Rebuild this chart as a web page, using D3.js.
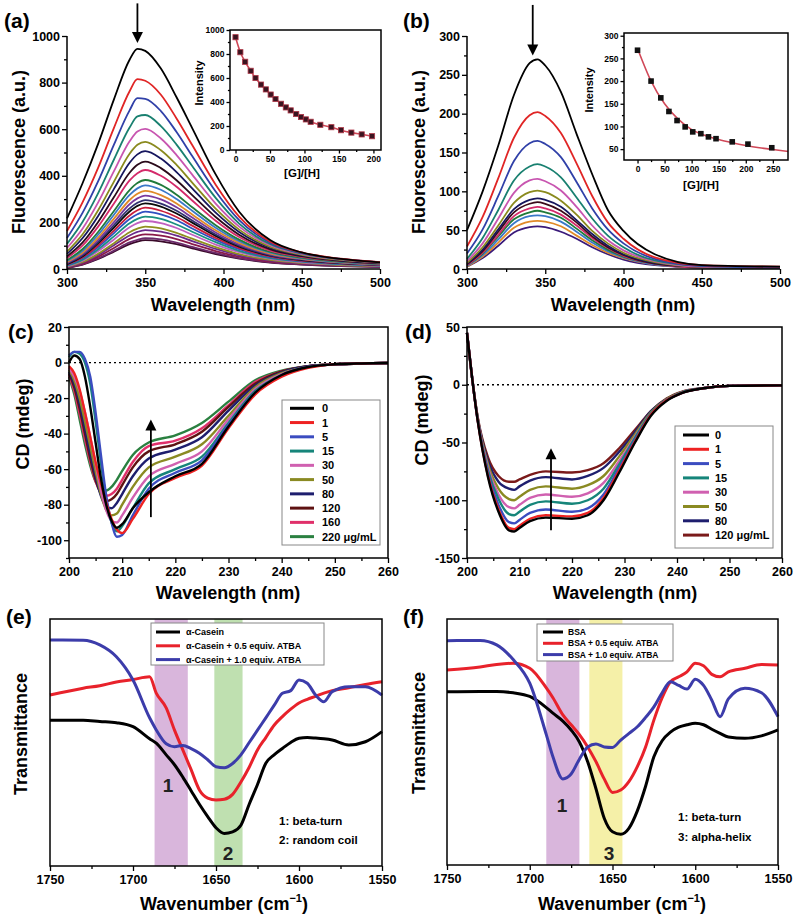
<!DOCTYPE html>
<html>
<head>
<meta charset="utf-8">
<script src="https://cdn.jsdelivr.net/npm/d3@7"></script>
<style>
body { margin: 0; background: #fff; }
svg text { font-family: "Liberation Sans", Arial, sans-serif; font-weight: bold; }
</style>
</head>
<body>
<div id="fig"></div>
<script>
// ---------- (a) fluorescence titration ----------
let wlA = [300, 310, 320, 330, 340, 345, 350, 360, 370, 380, 395, 410, 430, 450, 475, 500];
let fluorA = [
    [217, 369, 539, 728, 898, 945, 936, 860, 737, 605, 406, 246, 123, 71, 43, 28],
    [163, 287, 436, 606, 763, 815, 808, 748, 646, 532, 362, 225, 117, 71, 44, 29],
    [133, 242, 378, 534, 681, 733, 730, 678, 588, 485, 333, 210, 112, 69, 43, 29],
    [108, 203, 327, 470, 607, 655, 661, 613, 534, 442, 305, 195, 106, 67, 42, 29],
    [90, 174, 287, 420, 548, 590, 601, 560, 489, 405, 281, 182, 101, 64, 41, 28],
    [75, 149, 253, 375, 495, 533, 546, 510, 447, 371, 259, 169, 95, 61, 39, 27],
    [65, 133, 229, 344, 456, 492, 506, 474, 416, 346, 242, 159, 90, 58, 37, 26],
    [54, 114, 203, 309, 413, 447, 461, 433, 381, 317, 223, 147, 84, 55, 35, 25],
    [47, 101, 183, 281, 380, 411, 425, 400, 353, 294, 207, 137, 79, 52, 34, 23],
    [38, 86, 160, 249, 339, 369, 382, 361, 319, 265, 188, 126, 73, 49, 32, 22],
    [34, 78, 148, 233, 318, 346, 359, 340, 300, 250, 177, 119, 70, 46, 30, 21],
    [30, 71, 136, 216, 296, 323, 335, 317, 281, 234, 166, 112, 66, 44, 29, 20],
    [26, 65, 126, 201, 278, 303, 315, 299, 265, 221, 157, 106, 63, 42, 27, 19],
    [24, 59, 117, 188, 260, 284, 296, 281, 250, 208, 148, 100, 59, 40, 26, 18],
    [21, 55, 111, 178, 247, 271, 282, 268, 238, 199, 142, 96, 57, 38, 25, 18],
    [19, 50, 102, 165, 230, 252, 263, 250, 223, 186, 133, 90, 54, 36, 24, 17],
    [17, 46, 94, 154, 215, 235, 246, 234, 209, 174, 125, 85, 51, 34, 23, 16],
    [14, 40, 85, 140, 196, 215, 225, 215, 191, 160, 115, 78, 47, 32, 21, 15],
    [12, 36, 77, 127, 179, 197, 206, 197, 176, 147, 105, 72, 43, 29, 20, 14],
    [10, 30, 66, 111, 158, 173, 182, 174, 155, 130, 94, 64, 39, 26, 17, 12],
    [8, 27, 60, 102, 144, 159, 167, 160, 143, 120, 86, 59, 36, 24, 16, 11],
    [7, 23, 53, 90, 129, 142, 149, 143, 128, 107, 77, 53, 32, 22, 15, 10],
    [6, 20, 46, 79, 114, 125, 132, 127, 113, 95, 69, 47, 29, 20, 13, 9],
    [5, 19, 43, 74, 107, 118, 124, 119, 107, 89, 64, 45, 27, 19, 12, 9]
];
let colorsA = ['#000000', '#e02525', '#3040a8', '#198070', '#c855b0', '#8a8a1e', '#16165e', '#2a0a1a',
    '#d42a6a', '#207a3a', '#3a78c8', '#e08a28', '#7a3a9e', '#30306e', '#0a0a0a', '#c81e3c',
    '#3050c0', '#1a9080', '#c060c0', '#909020', '#6a2a8a', '#8a1a4a', '#6a2a6a', '#3a0a2a'];
let ratioA = [0, 7, 14, 22, 29, 37, 44, 51, 58, 66, 73, 80, 88, 95, 102, 109, 123, 139, 153, 168, 183, 198];
let intensA = [940, 815, 735, 660, 600, 545, 505, 462, 425, 385, 355, 330, 300, 275, 255, 235, 210, 190, 165, 145, 130, 115];

// ---------- (b) fluorescence titration ----------
let wlB = [300, 310, 320, 330, 340, 345, 350, 360, 370, 380, 390, 400, 420, 450, 500];
let fluorB = [
    [50, 100, 159, 224, 265, 270, 262, 228, 174, 122, 76, 49, 19, 5, 3],
    [29, 67, 117, 169, 198, 202, 197, 175, 136, 94, 60, 39, 15, 5, 3],
    [20, 51, 94, 139, 162, 165, 161, 144, 112, 78, 51, 33, 13, 4, 2],
    [13, 40, 76, 114, 132, 135, 132, 118, 92, 65, 43, 28, 11, 4, 2],
    [10, 33, 65, 98, 114, 116, 113, 101, 80, 56, 37, 24, 10, 3, 2],
    [8, 28, 56, 85, 99, 101, 99, 88, 70, 49, 33, 21, 9, 3, 2],
    [7, 25, 51, 77, 89, 91, 89, 80, 63, 45, 30, 19, 8, 3, 2],
    [6, 23, 48, 73, 84, 86, 84, 75, 60, 42, 28, 18, 7, 3, 2],
    [5, 21, 44, 68, 78, 80, 78, 70, 56, 40, 27, 17, 7, 2, 2],
    [5, 20, 42, 64, 73, 75, 73, 66, 52, 37, 25, 16, 7, 2, 1],
    [4, 18, 38, 59, 68, 69, 68, 61, 48, 34, 23, 15, 6, 2, 1],
    [3, 16, 34, 53, 61, 62, 61, 55, 43, 31, 21, 14, 6, 2, 1],
    [3, 14, 30, 47, 54, 55, 54, 48, 39, 28, 19, 12, 5, 2, 1]
];
let colorsB = ['#000000', '#e02525', '#3040a8', '#198070', '#c855b0', '#8a8a1e', '#16165e', '#3a0a1a',
    '#d42a6a', '#207a3a', '#3a78c8', '#e08a28', '#3a1a7a'];
let ratioB = [0, 25, 43, 58, 73, 88, 102, 117, 131, 145, 175, 204, 248];
let intensB = [268, 200, 163, 133, 113, 99, 88, 84, 77, 73, 66, 61, 53];
let fitRatioB = [0, 25, 50, 75, 100, 125, 150, 175, 200, 225, 250, 278];
let fitIntensB = [272, 200, 150, 116, 93, 80, 71, 64, 58, 53, 49, 45];

// ---------- (c) CD, alpha-casein ----------
let wlC = [200, 201, 202, 203, 204, 205, 206, 207, 208, 209, 210, 212, 215, 220, 225, 230, 235, 240, 245, 250, 255, 260];
let cdC = [
    [0, 4, 2, -8, -25, -45, -65, -80, -89, -93, -91, -82, -73, -64, -57, -36, -17, -7, -2.5, -1, -0.5, -0.3],
    [-2, -6, -15, -28, -42, -56, -68, -79, -88, -94, -96, -88, -74, -65, -58, -37, -18, -8, -3, -1, -0.5, -0.3],
    [4, 6, 6, 2, -8, -28, -52, -75, -90, -98, -97, -86, -71, -62, -55, -35, -17, -7, -2.5, -1, -0.5, -0.3],
    [3, 6, 5, 0, -12, -33, -56, -77, -90, -95, -92, -82, -68, -60, -53, -34, -16, -7, -2.5, -1, -0.5, -0.3],
    [-3, -8, -16, -28, -42, -57, -72, -83, -89, -90, -86, -76, -64, -57, -50, -32, -15, -6.5, -2.5, -1, -0.5, -0.3],
    [-4, -10, -20, -33, -47, -61, -74, -83, -86, -85, -80, -70, -59, -53, -46, -30, -14, -6, -2.5, -1, -0.5, -0.3],
    [-5, -12, -23, -37, -51, -64, -75, -81, -82, -79, -74, -64, -54, -49, -42, -27, -13, -5.5, -2, -1, -0.5, -0.3],
    [-6, -14, -26, -40, -54, -66, -74, -78, -77, -74, -69, -59, -50, -46, -39, -25, -12, -5, -2, -1, -0.5, -0.3],
    [-7, -16, -29, -43, -56, -67, -73, -75, -74, -71, -66, -56, -47, -44, -37, -24, -11, -5, -2, -1, -0.5, -0.3],
    [-8, -18, -32, -46, -58, -67, -71, -72, -70, -66, -61, -52, -45, -41, -34, -22, -10, -4.5, -2, -1, -0.5, -0.3]
];
let legendC = ['0', '1', '5', '15', '30', '50', '80', '120', '160', '220 \u03bcg/mL'];
let colorsC = ['#000000', '#ee2222', '#3b4cc0', '#16857a', '#d060b0', '#8a8a22', '#1e1e6e', '#5e1212', '#e0306a', '#2a8040'];

// ---------- (d) CD, BSA ----------
let wlD = [200, 201, 202, 204, 206, 208, 209, 210, 212, 215, 220, 223, 226, 229, 232, 235, 238, 241, 245, 250, 260];
let cdD = [
    [45, 5, -30, -80, -110, -126, -127, -124, -118, -115, -116, -113, -100, -76, -50, -27, -14, -7, -3, -1, -0.5],
    [45, 5, -30, -79, -108, -124, -125, -122, -116, -113, -114, -111, -98, -74, -49, -26, -13.5, -7, -3, -1, -0.5],
    [45, 5, -30, -77, -104, -119, -120, -117, -111, -108, -110, -107, -95, -72, -48, -26, -13.5, -7, -3, -1, -0.5],
    [45, 5, -29, -74, -99, -112, -113, -110, -104, -101, -103, -100, -90, -69, -46, -25, -13, -6.5, -3, -1, -0.5],
    [45, 5, -29, -72, -95, -106, -107, -104, -98, -95, -97, -94, -85, -66, -45, -25, -13, -6.5, -3, -1, -0.5],
    [45, 5, -28, -69, -90, -99, -100, -97, -91, -88, -90, -87, -79, -62, -43, -24, -12.5, -6.5, -3, -1, -0.5],
    [45, 5, -28, -66, -84, -90, -91, -88, -83, -80, -82, -79, -72, -58, -41, -23, -12.5, -6.5, -3, -1, -0.5],
    [45, 5, -27, -63, -79, -84, -84, -82, -78, -75, -76, -74, -68, -55, -39, -23, -12, -6, -3, -1, -0.5]
];
let legendD = ['0', '1', '5', '15', '30', '50', '80', '120 \u03bcg/mL'];
let colorsD = ['#000000', '#ee2222', '#3b4cc0', '#16857a', '#d060b0', '#8a8a22', '#1e1e6e', '#7a1a1a'];

// ---------- (e) FTIR, alpha-casein ----------
let wnE = [1750, 1730, 1720, 1710, 1700, 1690, 1686, 1680, 1675, 1670, 1665, 1660, 1655, 1650, 1645, 1640,
    1635, 1630, 1625, 1620, 1615, 1610, 1605, 1600, 1595, 1590, 1585, 1580, 1570, 1560, 1550];
let caseinE = [59, 59, 58.5, 58, 56.4, 51.5, 49.7, 45, 41, 36, 30.5, 25, 20, 15.5, 13.2, 13.8,
    16.5, 25, 33, 41.6, 45, 47.6, 50, 51.7, 52, 51.8, 51.5, 51, 49, 50.3, 54.4];
let casein05E = [69.2, 72, 73, 74.5, 75.5, 76.6, 70, 64, 55, 47, 39, 30.8, 27.5, 26.7, 27, 29,
    34, 40, 47, 52, 57, 60.5, 63.5, 66, 67.5, 68.7, 70, 71, 72.2, 73.5, 74.6];
let casein10E = [91.5, 91.4, 89.5, 84.7, 75.3, 60, 55.1, 49.5, 48.3, 48.8, 47.5, 45.6, 43, 40.2, 39.8, 41.5,
    45, 50, 55, 60, 65, 69.9, 71, 75.3, 74, 69.2, 66.5, 70.6, 72.6, 72.6, 69.2];
let legendE = ['\u03b1-Casein', '\u03b1-Casein + 0.5 equiv. ATBA', '\u03b1-Casein + 1.0 equiv. ATBA'];
let bandsE = [[1687, 1667, '#d9b6dc'], [1651, 1634, '#bfe0b0']];

// ---------- (f) FTIR, BSA ----------
let wnF = [1750, 1730, 1720, 1710, 1700, 1690, 1686, 1680, 1675, 1670, 1665, 1660, 1655, 1650, 1645, 1640,
    1635, 1630, 1625, 1620, 1615, 1610, 1605, 1600, 1595, 1590, 1585, 1580, 1570, 1560, 1550];
let bsaF = [70.4, 70.5, 70.5, 70, 68.5, 64, 61.7, 58.5, 54.9, 50, 42, 31, 19, 13.5, 12.5, 15,
    22, 32, 44, 50.5, 54, 56, 57, 57.6, 57, 55.2, 53.5, 52, 51.5, 52.5, 54.9];
let bsa05F = [79.3, 80.5, 81.5, 82, 80, 72, 68, 61, 57, 53, 48, 42, 35, 29.5, 30.5, 34,
    40, 48, 58.9, 68, 74.5, 76.5, 78.5, 82, 81, 77.5, 76.5, 78.5, 80, 81.5, 81.3];
let bsa10F = [91.2, 91.3, 89.5, 83.5, 73.9, 53, 44, 35, 37, 43, 48, 49.2, 48, 47.8, 50.8, 53.5,
    56.2, 60, 64.3, 70, 74.5, 73, 71.5, 75.5, 73, 67, 60.3, 67.5, 71.8, 70, 60.3];
let legendF = ['BSA', 'BSA + 0.5 equiv. ATBA', 'BSA + 1.0 equiv. ATBA'];
let bandsF = [[1690, 1670, '#d9b6dc'], [1664, 1644, '#f5f0a8']];
let irColors = ['#000000', '#e8222b', '#3c3caa'];

let svg = d3.select('#fig').append('svg').attr('width', 800).attr('height', 923);

function makePanel(box, xDom, yDom) {
    let x = d3.scaleLinear().domain(xDom).range([box.x0, box.x1]);
    let y = d3.scaleLinear().domain(yDom).range([box.y1, box.y0]);
    return { x: x, y: y, box: box };
}

function frame(p, full) {
    let b = p.box;
    if (full) {
        svg.append('rect')
            .attr('x', b.x0).attr('y', b.y0)
            .attr('width', b.x1 - b.x0).attr('height', b.y1 - b.y0)
            .attr('fill', 'none').attr('stroke', '#000').attr('stroke-width', 1.5);
    } else {
        svg.append('path')
            .attr('d', 'M' + b.x0 + ',' + b.y0 + 'V' + b.y1 + 'H' + b.x1)
            .attr('fill', 'none').attr('stroke', '#000').attr('stroke-width', 1.5);
    }
}

function styleAxis(g, fs) {
    g.select('.domain').remove();
    g.attr('font-size', fs).attr('font-family', '"Liberation Sans", Arial, sans-serif');
    g.selectAll('line').attr('stroke-width', 1.3);
    g.selectAll('text').attr('fill', '#000');
}

function xAxis(p, major, minor, fs, len) {
    let b = p.box;
    let g1 = svg.append('g').attr('transform', 'translate(0,' + b.y1 + ')')
        .call(d3.axisBottom(p.x).tickValues(minor).tickSize(len * 0.6).tickFormat(''));
    styleAxis(g1, fs);
    let g2 = svg.append('g').attr('transform', 'translate(0,' + b.y1 + ')')
        .call(d3.axisBottom(p.x).tickValues(major).tickSize(len).tickPadding(len > 4 ? 4 : 2)
            .tickFormat(function (d) { return String(d); }));
    styleAxis(g2, fs);
}

function yAxis(p, major, minor, fs, len) {
    let b = p.box;
    let g1 = svg.append('g').attr('transform', 'translate(' + b.x0 + ',0)')
        .call(d3.axisLeft(p.y).tickValues(minor).tickSize(len * 0.6).tickFormat(''));
    styleAxis(g1, fs);
    let g2 = svg.append('g').attr('transform', 'translate(' + b.x0 + ',0)')
        .call(d3.axisLeft(p.y).tickValues(major).tickSize(len).tickPadding(2)
            .tickFormat(function (d) { return String(d); }));
    styleAxis(g2, fs);
}

function label(x, y, s, fs, rotate, anchor) {
    let t = svg.append('text')
        .attr('font-size', fs)
        .attr('text-anchor', anchor || 'middle')
        .attr('fill', '#000')
        .text(s);
    if (rotate) {
        t.attr('transform', 'translate(' + x + ',' + y + ') rotate(-90)');
    } else {
        t.attr('x', x).attr('y', y);
    }
    return t;
}

function series(p, xs, ys, color, width, curve) {
    let line = d3.line()
        .x(function (d) { return p.x(d[0]); })
        .y(function (d) { return p.y(d[1]); })
        .curve(curve || d3.curveMonotoneX);
    svg.append('path')
        .datum(xs.map(function (v, i) { return [v, ys[i]]; }))
        .attr('d', line)
        .attr('fill', 'none')
        .attr('stroke', color)
        .attr('stroke-width', width)
        .attr('stroke-linejoin', 'round');
}

function arrow(p, xv, yFrom, yTo) {
    let x = p.x(xv), y1 = p.y(yFrom), y2 = p.y(yTo);
    let dir = y2 > y1 ? -1 : 1;
    svg.append('line')
        .attr('x1', x).attr('x2', x)
        .attr('y1', y1).attr('y2', y2 + dir * 8)
        .attr('stroke', '#000').attr('stroke-width', 1.8);
    svg.append('path')
        .attr('d', 'M' + x + ',' + y2 + 'L' + (x - 5.5) + ',' + (y2 + dir * 11) + 'L' + (x + 5.5) + ',' + (y2 + dir * 11) + 'Z')
        .attr('fill', '#000');
}

// ===== panel (a) =====
let pA = makePanel({ x0: 67, x1: 380, y0: 36, y1: 269 }, [300, 500], [0, 1000]);
for (let i = fluorA.length - 1; i >= 0; i--) {
    series(pA, wlA, fluorA[i], colorsA[i], 1.8);
}
frame(pA, false);
xAxis(pA, [300, 350, 400, 450, 500], [325, 375, 425, 475], 12.5, 5);
yAxis(pA, [0, 200, 400, 600, 800, 1000], [100, 300, 500, 700, 900], 12.5, 5);
arrow(pA, 345, 1140, 970);
label(223, 311, 'Wavelength (nm)', 18);
label(25, 152, 'Fluorescence (a.u.)', 18, true);
label(4, 28, '(a)', 21, false, 'start');

// inset (a)
let iA = makePanel({ x0: 230, x1: 381, y0: 30, y1: 150 }, [-8, 211], [0, 1000]);
svg.append('rect').attr('x', 230).attr('y', 30).attr('width', 151).attr('height', 120).attr('fill', '#fff');
series(iA, ratioA, intensA, '#d04858', 1.6);
svg.append('g').selectAll('rect')
    .data(ratioA)
    .enter()
    .append('rect')
    .attr('x', function (d) { return iA.x(d) - 2.6; })
    .attr('y', function (d, i) { return iA.y(intensA[i]) - 2.6; })
    .attr('width', 5.2).attr('height', 5.2)
    .attr('fill', '#3a1420').attr('stroke', '#b03848').attr('stroke-width', 0.8);
frame(iA, true);
xAxis(iA, [0, 50, 100, 150, 200], [25, 75, 125, 175], 8.5, 3.5);
yAxis(iA, [0, 200, 400, 600, 800, 1000], [100, 300, 500, 700, 900], 8.5, 3.5);
label(302, 177, '[G]/[H]', 11.5);
label(203, 83, 'Intensity', 11, true);

// ===== panel (b) =====
let pB = makePanel({ x0: 467, x1: 780, y0: 36, y1: 269 }, [300, 500], [0, 300]);
for (let i = fluorB.length - 1; i >= 0; i--) {
    series(pB, wlB, fluorB[i], colorsB[i], 1.8);
}
frame(pB, false);
xAxis(pB, [300, 350, 400, 450, 500], [325, 375, 425, 475], 12.5, 5);
yAxis(pB, [0, 50, 100, 150, 200, 250, 300], [25, 75, 125, 175, 225, 275], 12.5, 5);
arrow(pB, 342, 340, 275);
label(623, 311, 'Wavelength (nm)', 18);
label(425, 152, 'Fluorescence (a.u.)', 18, true);
label(403, 28, '(b)', 21, false, 'start');

// inset (b)
let iB = makePanel({ x0: 624, x1: 788, y0: 33, y1: 160 }, [-25, 278], [26, 306]);
svg.append('rect').attr('x', 624).attr('y', 33).attr('width', 164).attr('height', 127).attr('fill', '#fff');
series(iB, fitRatioB, fitIntensB, '#d04858', 1.6);
svg.append('g').selectAll('rect')
    .data(ratioB)
    .enter()
    .append('rect')
    .attr('x', function (d) { return iB.x(d) - 2.8; })
    .attr('y', function (d, i) { return iB.y(intensB[i]) - 2.8; })
    .attr('width', 5.6).attr('height', 5.6)
    .attr('fill', '#111');
frame(iB, true);
xAxis(iB, [0, 50, 100, 150, 200, 250], [25, 75, 125, 175, 225], 8.5, 3.5);
yAxis(iB, [50, 100, 150, 200, 250, 300], [75, 125, 175, 225, 275], 8.5, 3.5);
label(701, 189, '[G]/[H]', 11.5);
label(593, 90, 'Intensity', 11, true);

// ===== panel (c) =====
let pC = makePanel({ x0: 69, x1: 388, y0: 327, y1: 558 }, [200, 260], [-110, 20]);
svg.append('line')
    .attr('x1', pC.x(200)).attr('x2', pC.x(260))
    .attr('y1', pC.y(0)).attr('y2', pC.y(0))
    .attr('stroke', '#000').attr('stroke-width', 1.3).attr('stroke-dasharray', '2,3');
for (let i = cdC.length - 1; i >= 0; i--) {
    series(pC, wlC, cdC[i], colorsC[i], 2.4);
}
frame(pC, true);
xAxis(pC, [200, 210, 220, 230, 240, 250, 260], [205, 215, 225, 235, 245, 255], 12.5, 5);
yAxis(pC, [-100, -80, -60, -40, -20, 0, 20], [-110, -90, -70, -50, -30, -10, 10], 12.5, 5);
arrow(pC, 215.4, -87, -32);
svg.append('rect').attr('x', 282).attr('y', 400).attr('width', 98).attr('height', 145)
    .attr('fill', '#fff').attr('stroke', '#888').attr('stroke-width', 1);
legendC.forEach(function (s, i) {
    let yy = 408.3 + i * 14.26;
    svg.append('line').attr('x1', 290).attr('x2', 314).attr('y1', yy).attr('y2', yy)
        .attr('stroke', colorsC[i]).attr('stroke-width', 3);
    label(322, yy + 4, s, 11, false, 'start');
});
label(228, 599, 'Wavelength (nm)', 18);
label(29, 424, 'CD (mdeg)', 18, true);
label(8, 339, '(c)', 21, false, 'start');

// ===== panel (d) =====
let pD = makePanel({ x0: 467, x1: 782, y0: 327, y1: 558 }, [200, 260], [-150, 50]);
svg.append('line')
    .attr('x1', pD.x(200)).attr('x2', pD.x(260))
    .attr('y1', pD.y(0)).attr('y2', pD.y(0))
    .attr('stroke', '#000').attr('stroke-width', 1.3).attr('stroke-dasharray', '2,3');
for (let i = cdD.length - 1; i >= 0; i--) {
    series(pD, wlD, cdD[i], colorsD[i], 2.4);
}
frame(pD, true);
xAxis(pD, [200, 210, 220, 230, 240, 250, 260], [205, 215, 225, 235, 245, 255], 12.5, 5);
yAxis(pD, [-150, -100, -50, 0, 50], [-125, -75, -25, 25], 12.5, 5);
arrow(pD, 216, -126, -55);
svg.append('rect').attr('x', 675).attr('y', 426).attr('width', 98).attr('height', 122)
    .attr('fill', '#fff').attr('stroke', '#888').attr('stroke-width', 1);
legendD.forEach(function (s, i) {
    let yy = 435 + i * 14.3;
    svg.append('line').attr('x1', 683).attr('x2', 709).attr('y1', yy).attr('y2', yy)
        .attr('stroke', colorsD[i]).attr('stroke-width', 3);
    label(715, yy + 4, s, 11, false, 'start');
});
label(625, 599, 'Wavelength (nm)', 18);
label(428, 420, 'CD (mdeg)', 18, true);
label(405, 339, '(d)', 21, false, 'start');

// ===== panel (e) =====
let pE = makePanel({ x0: 50, x1: 382, y0: 619, y1: 866 }, [1750, 1550], [0, 100]);
bandsE.forEach(function (b) {
    svg.append('rect')
        .attr('x', pE.x(b[0])).attr('y', pE.box.y0)
        .attr('width', pE.x(b[1]) - pE.x(b[0])).attr('height', pE.box.y1 - pE.box.y0)
        .attr('fill', b[2]);
});
series(pE, wnE, caseinE, irColors[0], 3);
series(pE, wnE, casein05E, irColors[1], 3);
series(pE, wnE, casein10E, irColors[2], 3);
frame(pE, true);
xAxis(pE, [1750, 1700, 1650, 1600, 1550], [1725, 1675, 1625, 1575], 12.5, 5);
svg.append('rect').attr('x', 151).attr('y', 623).attr('width', 173).attr('height', 42)
    .attr('fill', '#fff').attr('stroke', '#888').attr('stroke-width', 1);
legendE.forEach(function (s, i) {
    let yy = 632 + i * 13.8;
    svg.append('line').attr('x1', 156).attr('x2', 180).attr('y1', yy).attr('y2', yy)
        .attr('stroke', irColors[i]).attr('stroke-width', 3);
    label(186, yy + 3.3, s, 9, false, 'start');
});
label(168, 792, '1', 19).attr('fill', '#222');
label(228, 860, '2', 19).attr('fill', '#222');
label(279, 825, '1: beta-turn', 11.5, false, 'start');
label(279, 844, '2: random coil', 11.5, false, 'start');
let tE = label(224, 910, 'Wavenumber (cm', 18);
tE.append('tspan').attr('font-size', 11).attr('dy', -8).text('\u22121');
tE.append('tspan').attr('dy', 8).text(')');
label(27, 734, 'Transmittance', 18, true);
label(6, 624, '(e)', 21, false, 'start');

// ===== panel (f) =====
let pF = makePanel({ x0: 447, x1: 778, y0: 619, y1: 865 }, [1750, 1550], [0, 100]);
bandsF.forEach(function (b) {
    svg.append('rect')
        .attr('x', pF.x(b[0])).attr('y', pF.box.y0)
        .attr('width', pF.x(b[1]) - pF.x(b[0])).attr('height', pF.box.y1 - pF.box.y0)
        .attr('fill', b[2]);
});
series(pF, wnF, bsaF, irColors[0], 3);
series(pF, wnF, bsa05F, irColors[1], 3);
series(pF, wnF, bsa10F, irColors[2], 3);
frame(pF, true);
xAxis(pF, [1750, 1700, 1650, 1600, 1550], [1725, 1675, 1625, 1575], 12.5, 5);
svg.append('rect').attr('x', 537).attr('y', 624).attr('width', 136).attr('height', 37)
    .attr('fill', '#fff').attr('stroke', '#888').attr('stroke-width', 1);
legendF.forEach(function (s, i) {
    let yy = 632 + i * 11.3;
    svg.append('line').attr('x1', 543).attr('x2', 563).attr('y1', yy).attr('y2', yy)
        .attr('stroke', irColors[i]).attr('stroke-width', 3);
    label(568, yy + 3, s, 8.5, false, 'start');
});
label(562, 812, '1', 19).attr('fill', '#222');
label(609, 860, '3', 19).attr('fill', '#222');
label(678, 821, '1: beta-turn', 11.5, false, 'start');
label(678, 841, '3: alpha-helix', 11.5, false, 'start');
let tF = label(622, 910, 'Wavenumber (cm', 18);
tF.append('tspan').attr('font-size', 11).attr('dy', -8).text('\u22121');
tF.append('tspan').attr('dy', 8).text(')');
label(425, 733, 'Transmittance', 18, true);
label(403, 624, '(f)', 21, false, 'start');
</script>
</body>
</html>
